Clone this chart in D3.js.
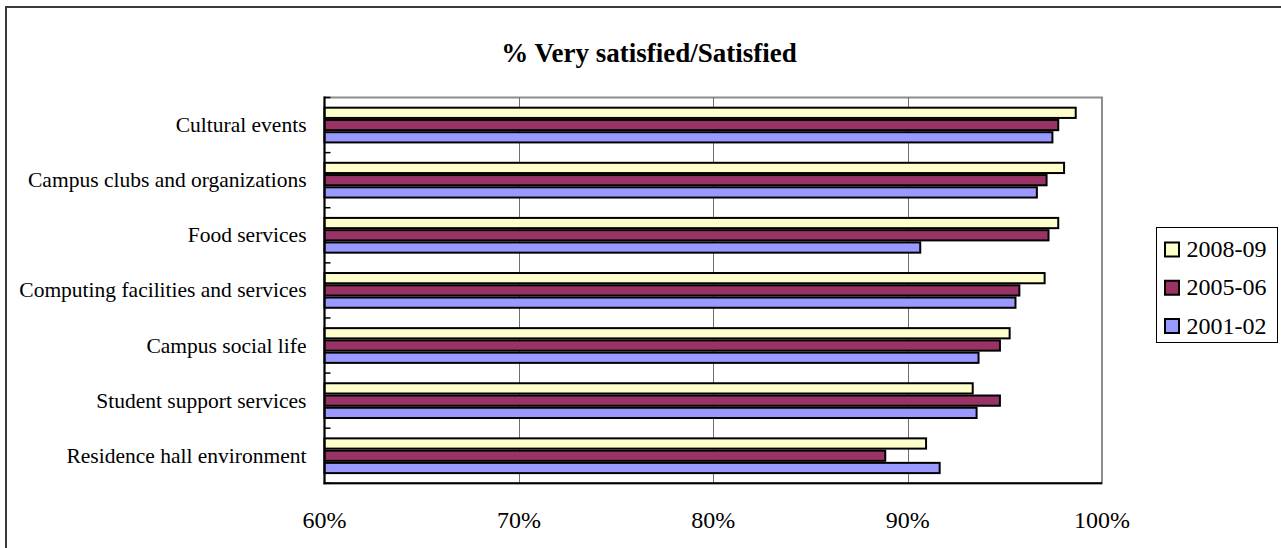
<!DOCTYPE html>
<html>
<head>
<meta charset="utf-8">
<script src="https://cdn.jsdelivr.net/npm/d3@7"></script>
<style>
  html, body { margin: 0; padding: 0; background: #fff; }
  svg { display: block; }
  text { font-family: "Liberation Serif", "Times New Roman", serif; fill: #000; }
</style>
</head>
<body>
<svg id="chart" width="1281" height="548"></svg>
<script>
const categories = [
  "Cultural events",
  "Campus clubs and organizations",
  "Food services",
  "Computing facilities and services",
  "Campus social life",
  "Student support services",
  "Residence hall environment"
];
const seriesNames = ["2008-09", "2005-06", "2001-02"];
const values2008 = [98.7, 98.1, 97.8, 97.1, 95.3, 93.4, 91.0];
const values2005 = [97.8, 97.2, 97.3, 95.8, 94.8, 94.8, 88.9];
const values2001 = [97.5, 96.7, 90.7, 95.6, 93.7, 93.6, 91.7];
const seriesColors = ["#FFFFCC", "#993366", "#9999FF"];
const xTicks = [60, 70, 80, 90, 100];
const titleText = "% Very satisfied/Satisfied";

const seriesValues = [values2008, values2005, values2001];

const svg = d3.select("#chart");
const plot = { left: 324.5, right: 1102, top: 97.5, bottom: 483.3 };

// outer chart border
svg.append("rect")
  .attr("x", 6).attr("y", 7)
  .attr("width", 1300).attr("height", 600)
  .attr("fill", "#fff").attr("stroke", "#3a3a3a").attr("stroke-width", 2);

const x = d3.scaleLinear().domain([60, 100]).range([plot.left, plot.right]);
const y0 = d3.scaleBand().domain(categories).range([plot.top, plot.bottom]).padding(0);
const bw = y0.bandwidth();
const y1 = d3.scaleBand().domain(seriesNames).range([bw / 6, bw * 5 / 6]).padding(0);

// plot area border (gray)
svg.append("rect")
  .attr("x", plot.left).attr("y", plot.top)
  .attr("width", plot.right - plot.left).attr("height", plot.bottom - plot.top)
  .attr("fill", "#fff").attr("stroke", "#8c8c8c").attr("stroke-width", 2);

// gridlines
svg.append("g")
  .selectAll("line")
  .data(xTicks.filter(t => t > 60 && t < 100))
  .join("line")
  .attr("x1", d => Math.round(x(d)) + 0.5).attr("x2", d => Math.round(x(d)) + 0.5)
  .attr("y1", plot.top).attr("y2", plot.bottom)
  .attr("stroke", "#6f6f6f").attr("stroke-width", 1);

// bars
const groups = svg.append("g")
  .selectAll("g")
  .data(categories)
  .join("g")
  .attr("transform", d => `translate(0,${y0(d)})`);

groups.selectAll("rect")
  .data((c, i) => seriesNames.map((s, j) => ({ s, j, v: seriesValues[j][i] })))
  .join("rect")
  .attr("x", x(60))
  .attr("y", d => y1(d.s) + 1)
  .attr("width", d => x(d.v) - x(60) - 1)
  .attr("height", y1.bandwidth() - 2)
  .attr("fill", d => seriesColors[d.j])
  .attr("stroke", "#000").attr("stroke-width", 2);

// category axis (left)
const yAxisG = svg.append("g");
yAxisG.append("line")
  .attr("x1", plot.left).attr("x2", plot.left)
  .attr("y1", plot.top - 1).attr("y2", plot.bottom + 1)
  .attr("stroke", "#000").attr("stroke-width", 2);
const boundaries = d3.range(0, categories.length + 1).map(i => plot.top + i * bw);
yAxisG.selectAll("line.tick")
  .data(boundaries)
  .join("line")
  .attr("class", "tick")
  .attr("x1", plot.left).attr("x2", plot.left + 6)
  .attr("y1", d => d).attr("y2", d => d)
  .attr("stroke", "#000").attr("stroke-width", 1.5);
yAxisG.selectAll("text")
  .data(categories)
  .join("text")
  .attr("x", 306.5)
  .attr("y", d => y0(d) + bw / 2 + 7)
  .attr("text-anchor", "end")
  .attr("font-size", "21.5px")
  .text(d => d);

// value axis (bottom)
const xAxisG = svg.append("g");
xAxisG.append("line")
  .attr("x1", plot.left - 1).attr("x2", plot.right)
  .attr("y1", plot.bottom).attr("y2", plot.bottom)
  .attr("stroke", "#000").attr("stroke-width", 2);
xAxisG.selectAll("text")
  .data(xTicks)
  .join("text")
  .attr("x", d => x(d))
  .attr("y", 528)
  .attr("text-anchor", "middle")
  .attr("font-size", "24px")
  .text(d => d + "%");

// title
svg.append("text")
  .attr("x", 649)
  .attr("y", 62)
  .attr("text-anchor", "middle")
  .attr("font-size", "27px")
  .attr("font-weight", "bold")
  .text(titleText);

// legend
const legend = svg.append("g");
legend.append("rect")
  .attr("x", 1156.5).attr("y", 227.5)
  .attr("width", 121).attr("height", 115)
  .attr("fill", "#fff").attr("stroke", "#000").attr("stroke-width", 1);
const legendY = d3.scalePoint().domain(seriesNames).range([249, 325.5]);
const items = legend.selectAll("g.item")
  .data(seriesNames)
  .join("g")
  .attr("class", "item")
  .attr("transform", d => `translate(0,${legendY(d)})`);
items.append("rect")
  .attr("x", 1165).attr("y", -6.5)
  .attr("width", 14).attr("height", 14)
  .attr("fill", (d, i) => seriesColors[i])
  .attr("stroke", "#000").attr("stroke-width", 2);
items.append("text")
  .attr("x", 1186.5).attr("y", 8)
  .attr("font-size", "24px")
  .text(d => d);
</script>
</body>
</html>
